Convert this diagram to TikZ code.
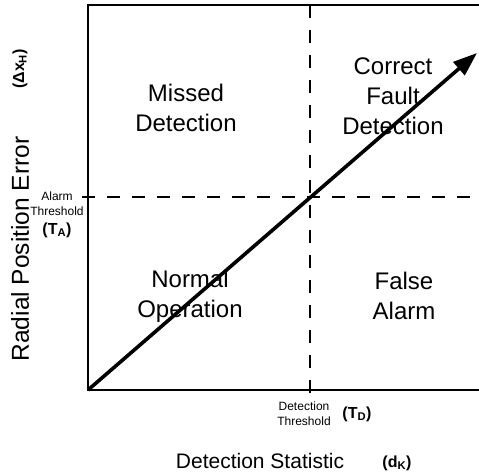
\documentclass[tikz,border=0pt]{standalone}
\usepackage{fontspec}
\setmainfont{Liberation Sans}
\usetikzlibrary{arrows.meta}
\begin{document}
\begin{tikzpicture}[x=1pt,y=-1pt,
  frame/.style={line width=1.7pt,line cap=round},
  thresh/.style={line width=1.4pt,dash pattern=on 13pt off 12pt},
  trend/.style={line width=3.6pt,-{Triangle[length=24pt,width=17pt]}},
  region/.style={align=center,inner sep=0pt,font=\fontsize{24}{30}\selectfont},
  xlabelstyle/.style={inner sep=0pt,font=\fontsize{21}{24}\selectfont},
  ylabelstyle/.style={inner sep=0pt,font=\fontsize{24.5}{28}\selectfont},
  symb/.style={inner sep=0pt,font=\bfseries\fontsize{16}{18}\selectfont},
  small/.style={align=center,inner sep=0pt,font=\fontsize{12}{15}\selectfont}]
\useasboundingbox (0,0) rectangle (479,474);

% plot frame (open on the right)
\coordinate (tl) at (88,5);
\coordinate (bl) at (88,390);
\coordinate (tr) at (479,5);
\coordinate (br) at (479,390);
\draw[frame] (tr) -- (tl) -- (bl) -- (br);

% thresholds
\coordinate (taL) at (82,197);
\coordinate (taR) at (479,197);
\coordinate (tdT) at (310,5);
\coordinate (tdB) at (310,401);
\draw[thresh] (taL) -- (taR);
\draw[thresh] (tdT) -- (tdB);

% quadrant labels
\node[region] (missed) at (186,108) {Missed\\Detection};
\node[region] (correct) at (393,96) {Correct\\Fault\\Detection};
\node[region] (normal) at (190,296) {Normal\\Operation};
\node[region] (false) at (404,296) {False\\Alarm};

% diagonal trend
\coordinate (tip) at (477,53);
\draw[trend] (bl) -- (tip);

% axis labels
\node[ylabelstyle,rotate=90] (ylab) at (20,249) {Radial Position Error};
\node[symb,rotate=90] (ysym) at (20,69) {(Δx\textsubscript{H})};
\node[xlabelstyle] (xlab) at (260,461) {Detection Statistic};
\node[symb] (xsym) at (397,463) {(d\textsubscript{K})};

% threshold annotations
\node[small] (alarm) at (57,204) {Alarm\\Threshold};
\node[symb] (tasym) at (57,230) {(T\textsubscript{A})};
\node[small] (detect) at (304,414) {Detection\\Threshold};
\node[symb] (tdsym) at (357,414) {(T\textsubscript{D})};
\end{tikzpicture}
\end{document}
